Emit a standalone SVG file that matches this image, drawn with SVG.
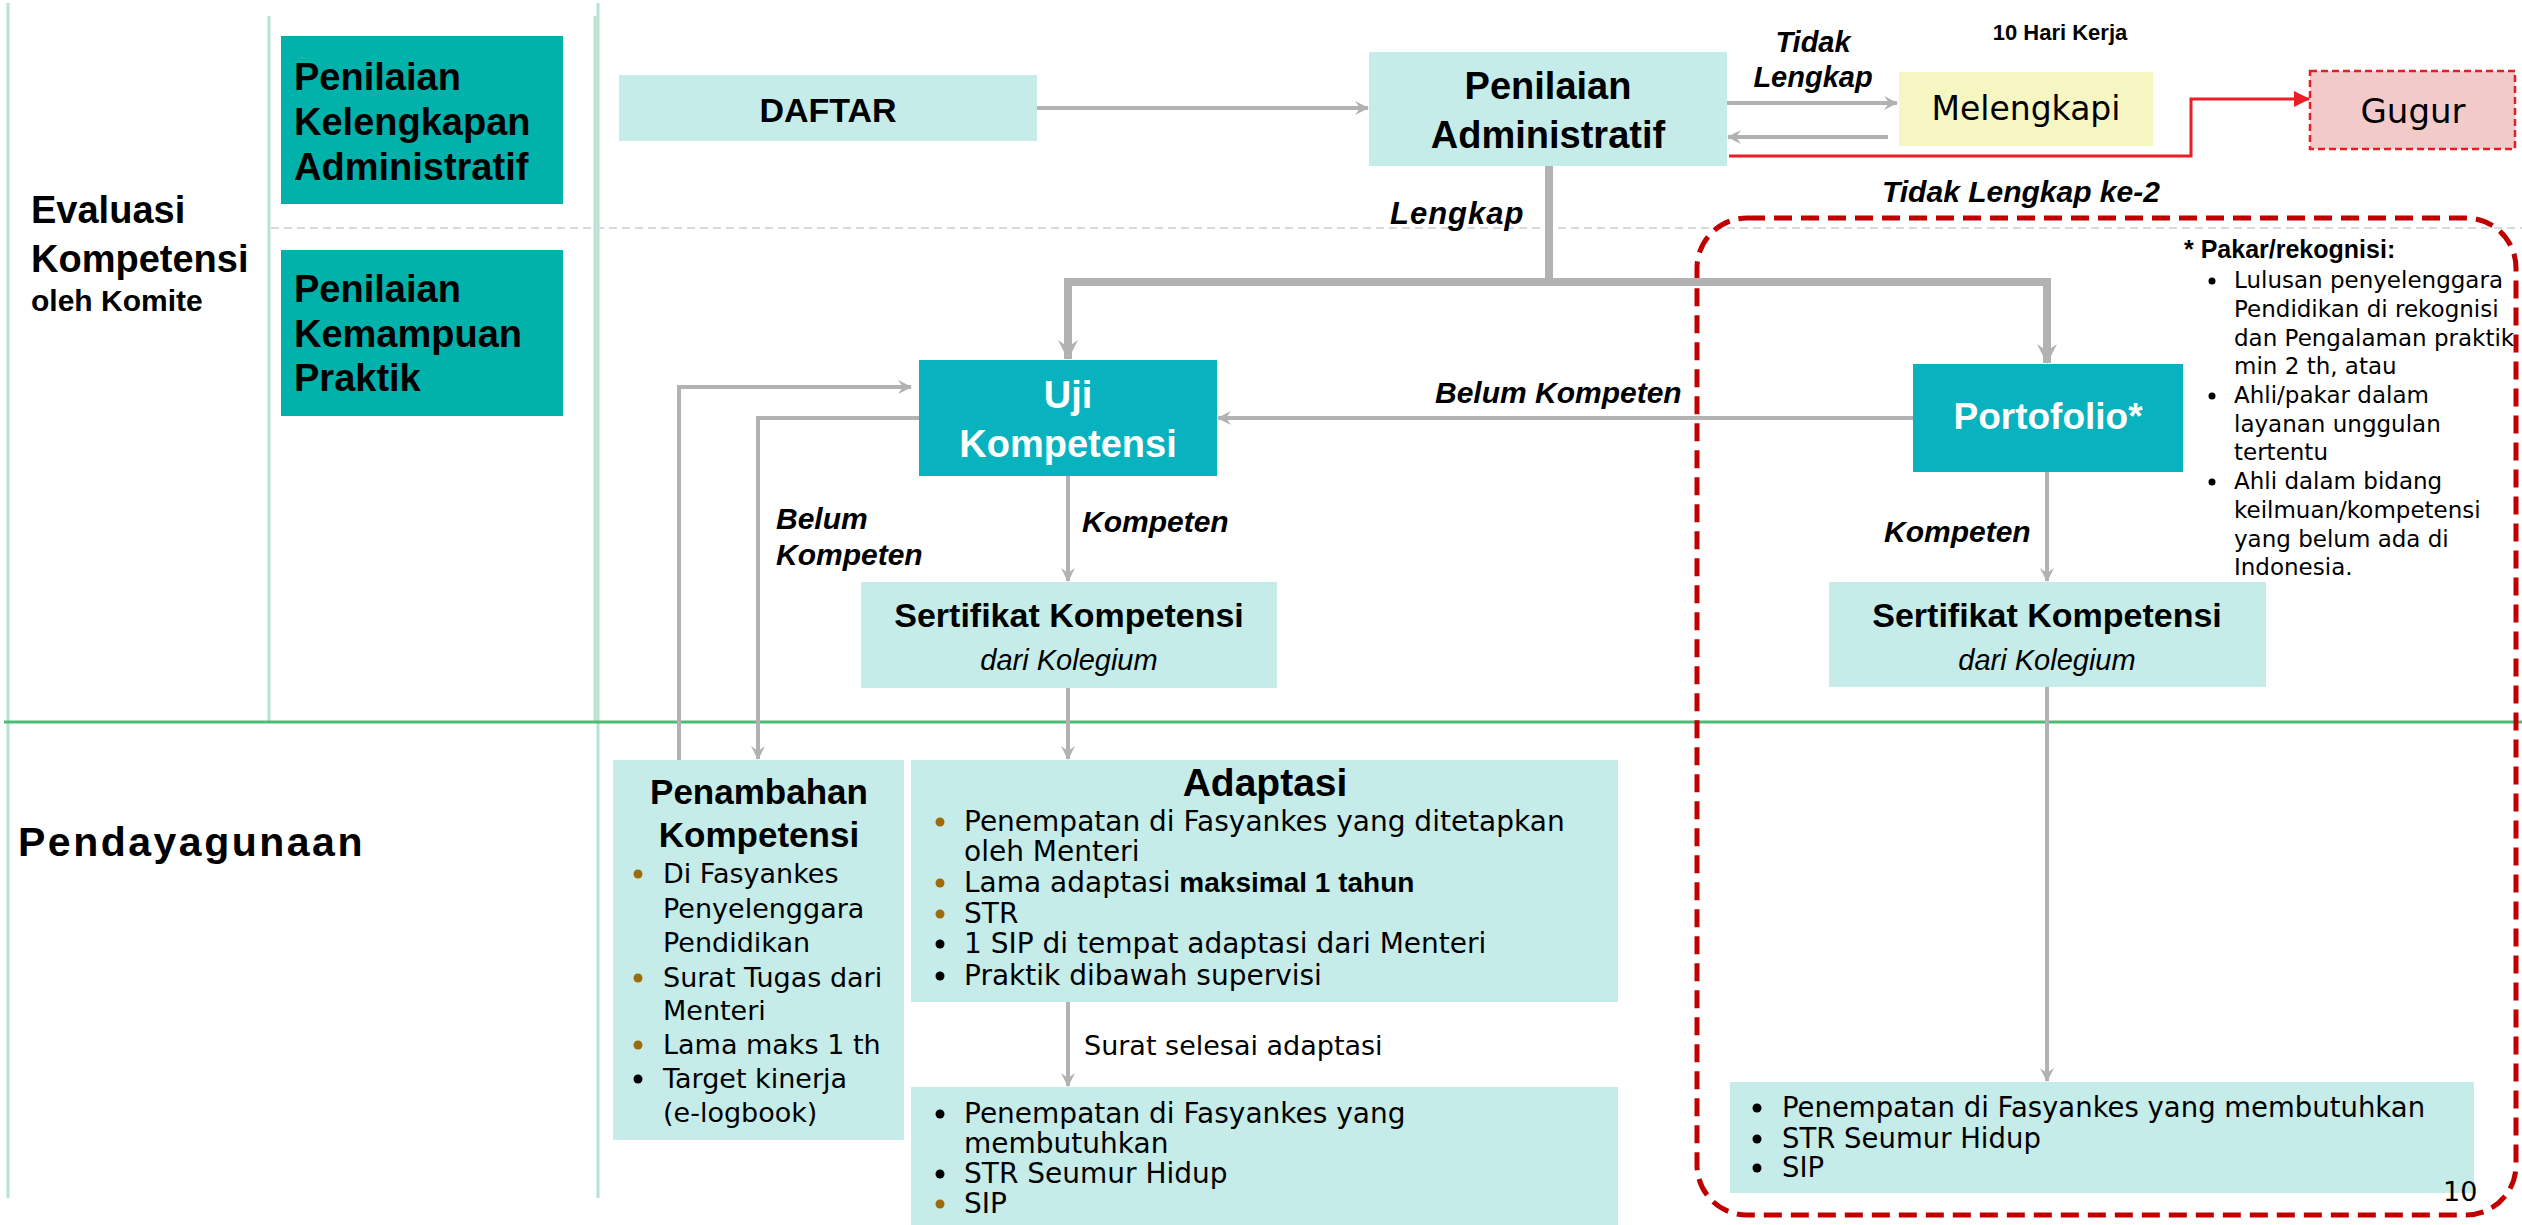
<svg xmlns="http://www.w3.org/2000/svg" width="2522" height="1225" viewBox="0 0 2522 1225">
<style>
.lane{stroke:#b7e2cf;stroke-width:3;fill:none}
.teal{fill:#00b2a9}
.teal2{fill:#08b2be}
.lc{fill:#c5ece9}
.b{font-family:"Liberation Sans",Arial,sans-serif;font-weight:bold;fill:#000}
.w{fill:#fff}
.r{font-family:"DejaVu Sans",sans-serif;fill:#000}
.it{font-family:"Liberation Sans",Arial,sans-serif;font-style:italic;fill:#000}
.bi{font-family:"Liberation Sans",Arial,sans-serif;font-weight:bold;font-style:italic;fill:#000}
.c{text-anchor:middle}
.con{stroke:#b2b2b2;fill:none;stroke-width:4}
.thick{stroke-width:8}
.br{fill:#9c6b0d}
.bk{fill:#000}
</style>
<defs>
<marker id="ag" markerUnits="userSpaceOnUse" viewBox="0 0 14 14" markerWidth="14" markerHeight="14" refX="13" refY="7" orient="auto">
<path d="M0,0 L14,7 L0,14 L5,7 Z" fill="#b2b2b2"/>
</marker>
<marker id="agb" markerUnits="userSpaceOnUse" viewBox="0 0 20 20" markerWidth="20" markerHeight="20" refX="19" refY="10" orient="auto">
<path d="M0,0 L20,10 L0,20 L7,10 Z" fill="#b2b2b2"/>
</marker>
<marker id="ar" markerUnits="userSpaceOnUse" viewBox="0 0 16 16" markerWidth="16" markerHeight="16" refX="15" refY="8" orient="auto">
<path d="M0,0 L16,8 L0,16 Z" fill="#ee1c24"/>
</marker>
</defs>

<g id="lanes">
<line class="lane" x1="8" y1="3" x2="8" y2="1198"/>
<line class="lane" x1="269" y1="16" x2="269" y2="722"/>
<line class="lane" x1="595" y1="16" x2="595" y2="722"/>
<line class="lane" x1="598" y1="3" x2="598" y2="1198"/>
<line x1="271" y1="228" x2="2522" y2="228" stroke="#d9d9d9" stroke-width="2" stroke-dasharray="8 5"/>
<line x1="4" y1="722" x2="2522" y2="722" stroke="#4dbb73" stroke-width="3"/>
<text class="b" x="31" y="223" font-size="38">Evaluasi</text>
<text class="b" x="31" y="272" font-size="38">Kompetensi</text>
<text class="b" x="31" y="311" font-size="30">oleh Komite</text>
<text class="b" x="18" y="856" font-size="41" letter-spacing="2.5">Pendayagunaan</text>
</g>

<g id="redbox">
<rect x="1697" y="218" width="819" height="997" rx="50" ry="50" fill="none" stroke="#c00000" stroke-width="5" stroke-dasharray="18 9"/>
</g>

<g id="connectors">
<line class="con" x1="1037" y1="108" x2="1368" y2="108" marker-end="url(#ag)"/>
<line class="con" x1="1727" y1="103" x2="1897" y2="103" marker-end="url(#ag)"/>
<line class="con" x1="1888" y1="137" x2="1728" y2="137" marker-end="url(#ag)"/>
<polyline points="1729,156 2191,156 2191,99 2309,99" fill="none" stroke="#ee1c24" stroke-width="3" marker-end="url(#ar)"/>
<path class="con thick" d="M1549,166 V282"/>
<path class="con thick" d="M1549,282 H1068 V359" marker-end="url(#agb)"/>
<path class="con thick" d="M1549,282 H2047 V363" marker-end="url(#agb)"/>
<line class="con" x1="1068" y1="476" x2="1068" y2="581" marker-end="url(#ag)"/>
<line class="con" x1="1913" y1="418" x2="1218" y2="418" marker-end="url(#ag)"/>
<line class="con" x1="2047" y1="472" x2="2047" y2="581" marker-end="url(#ag)"/>
<line class="con" x1="2047" y1="687" x2="2047" y2="1081" marker-end="url(#ag)"/>
<line class="con" x1="1068" y1="688" x2="1068" y2="759" marker-end="url(#ag)"/>
<line class="con" x1="1068" y1="1002" x2="1068" y2="1086" marker-end="url(#ag)"/>
<path class="con" d="M679,760 V387 H911" marker-end="url(#ag)"/>
<path class="con" d="M919,418 H758 V759" marker-end="url(#ag)"/>
<text class="bi c" x="1813" y="52" font-size="29">Tidak</text>
<text class="bi c" x="1813" y="87" font-size="29">Lengkap</text>
<text class="b c" x="2060" y="40" font-size="22">10 Hari Kerja</text>
<text class="bi" x="1882" y="202" font-size="30">Tidak Lengkap ke-2</text>
<text class="bi" x="1390" y="224" font-size="31" letter-spacing="1">Lengkap</text>
<text class="bi" x="1435" y="403" font-size="30">Belum Kompeten</text>
<text class="bi" x="1082" y="532" font-size="30">Kompeten</text>
<text class="bi" x="776" y="529" font-size="30">Belum</text>
<text class="bi" x="776" y="565" font-size="30">Kompeten</text>
<text class="bi" x="1884" y="542" font-size="30">Kompeten</text>
<text class="r" x="1084" y="1055" font-size="27">Surat selesai adaptasi</text>
</g>

<g id="n-kelengkapan">
<rect class="teal" x="281" y="36" width="282" height="168"/>
<text class="b" x="294" y="90" font-size="38">Penilaian</text>
<text class="b" x="294" y="135" font-size="38">Kelengkapan</text>
<text class="b" x="294" y="180" font-size="38">Administratif</text>
</g>

<g id="n-kemampuan">
<rect class="teal" x="281" y="250" width="282" height="166"/>
<text class="b" x="294" y="302" font-size="38">Penilaian</text>
<text class="b" x="294" y="347" font-size="38">Kemampuan</text>
<text class="b" x="294" y="391" font-size="38">Praktik</text>
</g>

<g id="n-daftar">
<rect class="lc" x="619" y="75" width="418" height="66"/>
<text class="b c" x="828" y="122" font-size="34">DAFTAR</text>
</g>

<g id="n-penilaian-adm">
<rect class="lc" x="1369" y="52" width="358" height="114"/>
<text class="b c" x="1548" y="99" font-size="38">Penilaian</text>
<text class="b c" x="1548" y="148" font-size="38">Administratif</text>
</g>

<g id="n-melengkapi">
<rect x="1899" y="72" width="254" height="74" fill="#f6f6c2"/>
<text class="r c" x="2026" y="120" font-size="33">Melengkapi</text>
</g>

<g id="n-gugur">
<rect x="2310" y="71" width="205" height="78" fill="#f2caca" stroke="#e31e24" stroke-width="2.5" stroke-dasharray="7 4"/>
<text class="r c" x="2413" y="123" font-size="34">Gugur</text>
</g>

<g id="n-uji">
<rect class="teal2" x="919" y="360" width="298" height="116"/>
<text class="b w c" x="1068" y="408" font-size="38">Uji</text>
<text class="b w c" x="1068" y="457" font-size="38">Kompetensi</text>
</g>

<g id="n-portofolio">
<rect class="teal2" x="1913" y="364" width="270" height="108"/>
<text class="b w c" x="2048" y="429" font-size="37">Portofolio*</text>
</g>

<g id="n-pakar">
<text class="b" x="2184" y="258" font-size="25">* Pakar/rekognisi:</text>
<circle cx="2212" cy="281" r="3.5" class="bk"/>
<circle cx="2212" cy="396" r="3.5" class="bk"/>
<circle cx="2212" cy="482" r="3.5" class="bk"/>
<text class="r" font-size="23">
<tspan x="2234" y="288">Lulusan penyelenggara</tspan>
<tspan x="2234" y="317">Pendidikan di rekognisi</tspan>
<tspan x="2234" y="346">dan Pengalaman praktik</tspan>
<tspan x="2234" y="374">min 2 th, atau</tspan>
<tspan x="2234" y="403">Ahli/pakar dalam</tspan>
<tspan x="2234" y="432">layanan unggulan</tspan>
<tspan x="2234" y="460">tertentu</tspan>
<tspan x="2234" y="489">Ahli dalam bidang</tspan>
<tspan x="2234" y="518">keilmuan/kompetensi</tspan>
<tspan x="2234" y="547">yang belum ada di</tspan>
<tspan x="2234" y="575">Indonesia.</tspan>
</text>
</g>

<g id="n-sertifikat-1">
<rect class="lc" x="861" y="582" width="416" height="106"/>
<text class="b c" x="1069" y="627" font-size="34">Sertifikat Kompetensi</text>
<text class="it c" x="1069" y="670" font-size="29">dari Kolegium</text>
</g>

<g id="n-sertifikat-2">
<rect class="lc" x="1829" y="582" width="437" height="105"/>
<text class="b c" x="2047" y="627" font-size="34">Sertifikat Kompetensi</text>
<text class="it c" x="2047" y="670" font-size="29">dari Kolegium</text>
</g>

<g id="n-penambahan">
<rect class="lc" x="613" y="760" width="291" height="380"/>
<text class="b c" x="759" y="804" font-size="35">Penambahan</text>
<text class="b c" x="759" y="847" font-size="35">Kompetensi</text>
<circle cx="638" cy="874" r="4.5" class="br"/>
<circle cx="638" cy="978" r="4.5" class="br"/>
<circle cx="638" cy="1045" r="4.5" class="br"/>
<circle cx="638" cy="1079" r="4.5" class="bk"/>
<text class="r" font-size="27">
<tspan x="663" y="883">Di Fasyankes</tspan>
<tspan x="663" y="918">Penyelenggara</tspan>
<tspan x="663" y="952">Pendidikan</tspan>
<tspan x="663" y="987">Surat Tugas dari</tspan>
<tspan x="663" y="1020">Menteri</tspan>
<tspan x="663" y="1054">Lama maks 1 th</tspan>
<tspan x="663" y="1088">Target kinerja</tspan>
<tspan x="663" y="1122">(e-logbook)</tspan>
</text>
</g>

<g id="n-adaptasi">
<rect class="lc" x="911" y="760" width="707" height="242"/>
<text class="b c" x="1265" y="796" font-size="39">Adaptasi</text>
<circle cx="940" cy="822" r="4.5" class="br"/>
<circle cx="940" cy="883" r="4.5" class="br"/>
<circle cx="940" cy="914" r="4.5" class="br"/>
<circle cx="940" cy="944" r="4.5" class="bk"/>
<circle cx="940" cy="976" r="4.5" class="bk"/>
<text class="r" font-size="28">
<tspan x="964" y="831">Penempatan di Fasyankes yang ditetapkan</tspan>
<tspan x="964" y="861">oleh Menteri</tspan>
<tspan x="964" y="892">Lama adaptasi <tspan font-family="Liberation Sans, Arial, sans-serif" font-weight="bold">maksimal 1 tahun</tspan></tspan>
<tspan x="964" y="923">STR</tspan>
<tspan x="964" y="953">1 SIP di tempat adaptasi dari Menteri</tspan>
<tspan x="964" y="985">Praktik dibawah supervisi</tspan>
</text>
</g>

<g id="n-hasil-adaptasi">
<rect class="lc" x="911" y="1087" width="707" height="138"/>
<circle cx="940" cy="1114" r="4.5" class="bk"/>
<circle cx="940" cy="1174" r="4.5" class="bk"/>
<circle cx="940" cy="1204" r="4.5" class="br"/>
<text class="r" font-size="28">
<tspan x="964" y="1123">Penempatan di Fasyankes yang</tspan>
<tspan x="964" y="1153">membutuhkan</tspan>
<tspan x="964" y="1183">STR Seumur Hidup</tspan>
<tspan x="964" y="1213">SIP</tspan>
</text>
</g>

<g id="n-hasil-portofolio">
<rect class="lc" x="1730" y="1082" width="744" height="111"/>
<circle cx="1757" cy="1108" r="4.5" class="bk"/>
<circle cx="1757" cy="1139" r="4.5" class="bk"/>
<circle cx="1757" cy="1168" r="4.5" class="bk"/>
<text class="r" font-size="27.5">
<tspan x="1782" y="1117">Penempatan di Fasyankes yang membutuhkan</tspan>
<tspan x="1782" y="1148">STR Seumur Hidup</tspan>
<tspan x="1782" y="1177">SIP</tspan>
</text>
<text class="r" x="2443" y="1201" font-size="27">10</text>
</g>
</svg>
